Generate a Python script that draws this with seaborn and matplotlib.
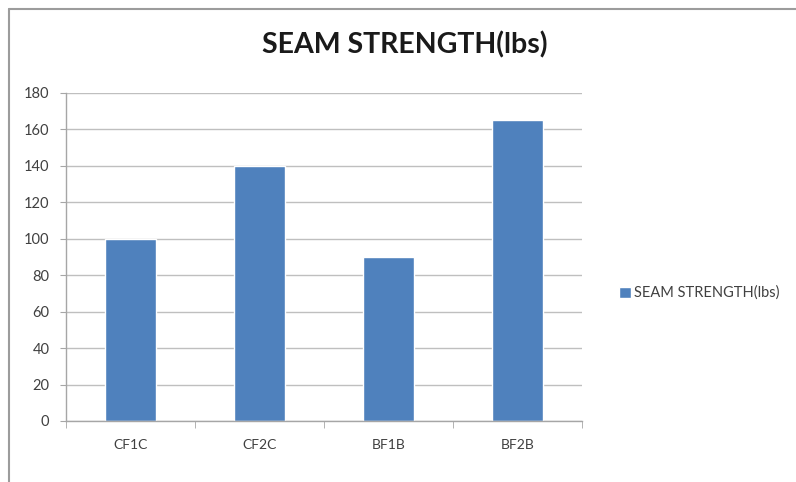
import matplotlib
matplotlib.use("Agg")
import matplotlib.pyplot as plt
from matplotlib.lines import Line2D
import seaborn as sns
import pandas as pd
import numpy as np

categories = ["CF1C", "CF2C", "BF1B", "BF2B"]
seam_strength = [100, 140, 90, 165]
y_ticks = [0, 20, 40, 60, 80, 100, 120, 140, 160, 180]
series_name = "SEAM STRENGTH(lbs)"

sns.set_style("white")
plt.rcParams['font.family'] = ['Lato', 'DejaVu Sans']

df = pd.DataFrame({"cat": categories, "val": seam_strength})

fig = plt.figure(figsize=(7.96, 4.82), dpi=100)
ax = fig.add_axes([66 / 796, 1 - 421 / 482, (582 - 66) / 796, (421 - 93) / 482])

sns.barplot(data=df, x="cat", y="val", color="#4F81BD", saturation=1,
            width=0.4, label=series_name, ax=ax)

ax.set_ylim(0, 180)
ax.set_xlim(-0.5, len(categories) - 0.5)
ax.set_yticks(y_ticks)
ax.set_xlabel("")
ax.set_ylabel("")
ax.yaxis.grid(True, color="#BFBFBF", linewidth=1)
ax.set_axisbelow(True)
for s in ["top", "right"]:
    ax.spines[s].set_visible(False)
for s in ["left", "bottom"]:
    ax.spines[s].set_color("#A6A6A6")
    ax.spines[s].set_linewidth(1)

ax.tick_params(axis="y", length=4, color="#A6A6A6", labelsize=10.5,
               labelcolor="#404040", pad=8, left=True)
ax.tick_params(axis="x", which="major", length=0, labelsize=10,
               labelcolor="#404040", pad=13)
ax.set_xticks(np.arange(-0.5, len(categories)), minor=True)
ax.tick_params(axis="x", which="minor", length=5, color="#A6A6A6",
               bottom=True, direction="out")

fig.text(405 / 796, 1 - 45 / 482, series_name, ha="center", va="center",
         fontsize=20.5, fontweight="bold", color="#1a1a1a")

ax.legend(loc="center left", bbox_to_anchor=(606 / 796, 1 - 293 / 482),
          bbox_transform=fig.transFigure, frameon=False, fontsize=10.5,
          handlelength=0.8, handleheight=0.8, handletextpad=0.25,
          labelcolor="#404040")

# chart frame (left and top edges)
fig.add_artist(Line2D([9 / 796, 9 / 796], [0, 1 - 9 / 482],
                      transform=fig.transFigure, color="#9C9C9C", lw=1.5))
fig.add_artist(Line2D([9 / 796, 1], [1 - 9 / 482, 1 - 9 / 482],
                      transform=fig.transFigure, color="#9C9C9C", lw=1.5))

fig.savefig("out.png", dpi=100, facecolor="white")
